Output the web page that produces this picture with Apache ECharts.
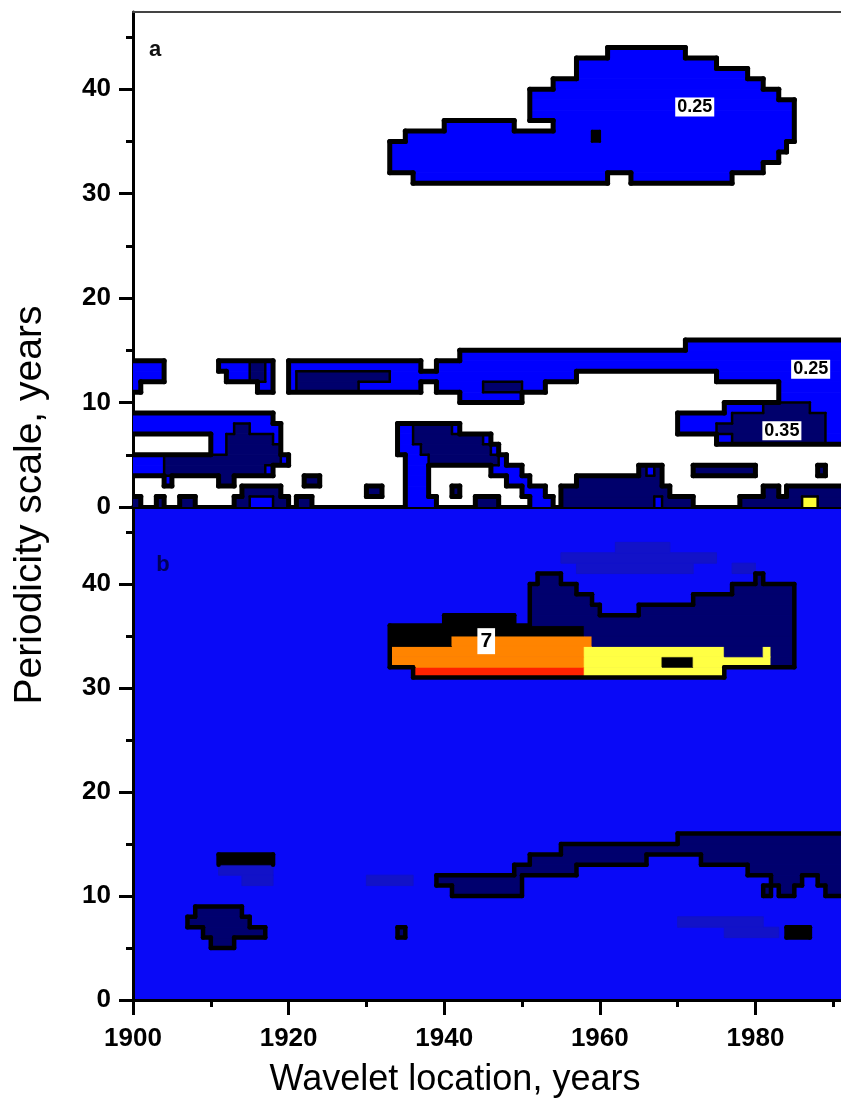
<!DOCTYPE html>
<html>
<head>
<meta charset="utf-8">
<title>Wavelet periodicity</title>
<script src="https://cdn.jsdelivr.net/npm/echarts@6/dist/echarts.min.js"></script>
<style>
  html, body { margin: 0; padding: 0; background: #fff; }
  #chart { width: 841px; height: 1111px; }
</style>
</head>
<body>
<div id="chart"></div>
<script>
// grid of the wavelet maps: one column per year, one row per unit of period
const YEAR0 = 1900;
const NCOL = 91;
const NROW = 48;

const xMajorTicks = [1900, 1920, 1940, 1960, 1980];
const xMinorTicks = [1910, 1930, 1950, 1970, 1990];
const yMajorTicks = [0, 10, 20, 30, 40];
const yMinorTicks = [5, 15, 25, 35, 45];

// runs: [period row, from year, to year, level]
// later runs paint over earlier ones
// levels panel a: b = 0.25, n = 0.35, k = peak, y = spot
const topRuns = [
  [43, 1961, 1971, 'b'], [42, 1957, 1975, 'b'], [41, 1957, 1979, 'b'], [40, 1954, 1981, 'b'],
  [39, 1951, 1983, 'b'], [38, 1951, 1985, 'b'], [37, 1951, 1985, 'b'],
  [36, 1940, 1949, 'b'], [36, 1954, 1985, 'b'],
  [35, 1935, 1985, 'b'], [34, 1933, 1984, 'b'], [33, 1933, 1983, 'b'], [32, 1933, 1981, 'b'],
  [31, 1936, 1961, 'b'], [31, 1964, 1977, 'b'],
  [35, 1959, 1960, 'k'],
  [15, 1971, 1991, 'b'], [14, 1942, 1991, 'b'],
  [13, 1920, 1937, 'b'], [13, 1939, 1991, 'b'],
  [12, 1920, 1957, 'b'], [12, 1975, 1991, 'b'],
  [11, 1920, 1937, 'b'], [11, 1939, 1953, 'b'], [11, 1983, 1991, 'b'],
  [10, 1942, 1950, 'b'], [10, 1983, 1991, 'b'],
  [9, 1976, 1991, 'b'], [8, 1970, 1991, 'b'], [7, 1970, 1991, 'b'], [6, 1975, 1991, 'b'],
  [12, 1921, 1933, 'n'], [11, 1921, 1929, 'n'], [11, 1945, 1950, 'n'],
  [9, 1981, 1987, 'n'], [8, 1977, 1989, 'n'], [7, 1975, 1989, 'n'], [6, 1977, 1989, 'n'],
  [13, 1900, 1904, 'b'], [12, 1900, 1904, 'b'], [11, 1900, 1901, 'b'],
  [13, 1911, 1918, 'b'], [12, 1912, 1918, 'b'], [11, 1916, 1918, 'b'],
  [13, 1915, 1917, 'n'], [12, 1915, 1917, 'n'],
  [8, 1900, 1918, 'b'], [7, 1900, 1919, 'b'], [6, 1910, 1919, 'b'], [5, 1910, 1919, 'b'],
  [4, 1900, 1920, 'b'], [3, 1900, 1918, 'b'], [2, 1904, 1905, 'b'],
  [7, 1913, 1915, 'n'], [6, 1912, 1918, 'n'], [5, 1912, 1919, 'n'], [4, 1904, 1919, 'n'], [3, 1904, 1917, 'n'],
  [7, 1934, 1942, 'b'], [6, 1934, 1946, 'b'], [5, 1934, 1947, 'b'], [4, 1935, 1948, 'b'],
  [3, 1935, 1938, 'b'], [3, 1946, 1950, 'b'], [2, 1935, 1938, 'b'], [2, 1948, 1951, 'b'],
  [1, 1935, 1938, 'b'], [1, 1950, 1953, 'b'], [0, 1935, 1939, 'b'], [0, 1951, 1954, 'b'],
  [7, 1936, 1941, 'n'], [6, 1936, 1945, 'n'], [5, 1937, 1946, 'n'], [4, 1938, 1947, 'n'],
  [1, 1941, 1942, 'n'],
  [2, 1911, 1913, 'n'], [2, 1922, 1924, 'n'], [1, 1930, 1932, 'n'],
  [0, 1900, 1901, 'n'], [0, 1903, 1904, 'n'], [0, 1906, 1908, 'n'],
  [1, 1914, 1919, 'n'], [0, 1913, 1920, 'n'], [0, 1915, 1918, 'b'], [0, 1921, 1923, 'n'],
  [0, 1944, 1947, 'n'],
  [3, 1965, 1968, 'n'], [2, 1957, 1968, 'n'], [1, 1955, 1969, 'n'], [0, 1955, 1972, 'n'],
  [3, 1966, 1967, 'b'], [0, 1967, 1968, 'b'],
  [3, 1972, 1980, 'n'], [3, 1988, 1989, 'n'],
  [1, 1981, 1983, 'n'], [1, 1984, 1991, 'n'], [0, 1978, 1991, 'n'], [0, 1986, 1988, 'y']
];

// levels panel b: f = faint, n = dark, k = black, o/r/y = high power
const bottomRuns = [
  [43, 1962, 1969, 'f'], [42, 1955, 1975, 'f'], [41, 1957, 1972, 'f'], [41, 1977, 1980, 'f'],
  [40, 1952, 1955, 'n'], [40, 1980, 1981, 'n'],
  [39, 1951, 1957, 'n'], [39, 1977, 1985, 'n'],
  [38, 1951, 1959, 'n'], [38, 1972, 1985, 'n'],
  [37, 1951, 1960, 'n'], [37, 1965, 1985, 'n'],
  [36, 1951, 1985, 'n'], [35, 1958, 1985, 'n'], [34, 1959, 1985, 'n'],
  [33, 1976, 1985, 'n'], [32, 1982, 1985, 'n'],
  [36, 1940, 1949, 'k'], [35, 1933, 1958, 'k'], [34, 1933, 1941, 'k'],
  [34, 1941, 1959, 'o'], [33, 1933, 1958, 'o'], [32, 1933, 1958, 'o'],
  [31, 1936, 1958, 'r'],
  [33, 1958, 1976, 'y'], [32, 1958, 1982, 'y'], [31, 1958, 1976, 'y'], [33, 1981, 1982, 'y'],
  [32, 1968, 1972, 'k'],
  [13, 1911, 1918, 'k'], [12, 1911, 1918, 'f'], [11, 1914, 1918, 'f'],
  [8, 1908, 1914, 'n'], [7, 1907, 1915, 'n'], [6, 1909, 1917, 'n'], [5, 1910, 1913, 'n'],
  [11, 1930, 1936, 'f'], [6, 1934, 1935, 'n'],
  [11, 1939, 1950, 'n'], [10, 1941, 1950, 'n'],
  [15, 1970, 1991, 'n'], [14, 1955, 1991, 'n'], [13, 1951, 1966, 'n'], [13, 1973, 1991, 'n'],
  [12, 1949, 1957, 'n'], [12, 1979, 1991, 'n'], [11, 1982, 1986, 'n'], [11, 1988, 1991, 'n'],
  [10, 1983, 1985, 'n'], [10, 1989, 1991, 'n'], [10, 1981, 1982, 'n'],
  [7, 1970, 1981, 'f'], [6, 1976, 1983, 'f'], [6, 1984, 1987, 'k']
];

const topLabels = [
  { name: '0.25', value: [1972.2, 38.3] },
  { name: '0.25', value: [1987.1, 13.2] },
  { name: '0.35', value: [1983.4, 7.3] }
];
const bottomLabels = [
  { name: '7', value: [1945.4, 34.5] }
];

const topColors = { b: '#0000fe', n: '#00006c', k: '#000000', y: '#ffff33' };
const bottomColors = { n: '#00006e', f: '#1212c8', k: '#000000', y: '#ffff44', o: '#ff8400', r: '#ff2200' };
const bottomBg = '#0909f7';

function buildGrid(runs) {
  let g = [];
  for (let r = 0; r < NROW; r++) g.push(new Array(NCOL).fill('.'));
  runs.forEach(run => {
    for (let x = run[1]; x < run[2]; x++) {
      let c = x - YEAR0;
      if (c >= 0 && c < NCOL) g[run[0]][c] = run[3];
    }
  });
  return g;
}

// horizontal runs of the same level -> [x0, x1, row, levelIndex]
function fillData(g, codes) {
  let out = [];
  for (let r = 0; r < NROW; r++) {
    let c = 0;
    while (c < NCOL) {
      let code = g[r][c];
      let e = c;
      while (e < NCOL && g[r][e] === code) e++;
      if (code !== '.') out.push([YEAR0 + c, YEAR0 + e, r, codes.indexOf(code)]);
      c = e;
    }
  }
  return out;
}

// contour lines on cell edges where the level changes -> [x0, y0, x1, y1, width]
function edgeData(g, widthFn) {
  let out = [];
  for (let r = 1; r < NROW; r++) {
    let start = -1, w0 = 0;
    for (let c = 0; c <= NCOL; c++) {
      let w = c < NCOL ? widthFn(g[r - 1][c], g[r][c]) : 0;
      if (w !== w0) {
        if (w0 > 0) out.push([YEAR0 + start, r, YEAR0 + c, r, w0]);
        start = c;
        w0 = w;
      }
    }
  }
  for (let c = 1; c < NCOL; c++) {
    let start = -1, w0 = 0;
    for (let r = 0; r <= NROW; r++) {
      let w = r < NROW ? widthFn(g[r][c - 1], g[r][c]) : 0;
      if (w !== w0) {
        if (w0 > 0) out.push([YEAR0 + c, start, YEAR0 + c, r, w0]);
        start = r;
        w0 = w;
      }
    }
  }
  return out;
}

function topWidth(a, b) {
  if (a === b) return 0;
  if (a === '.' || b === '.') return 5;
  return 2.5;
}

function bottomWidth(a, b) {
  if (a === b) return 0;
  if (a === 'f' || b === 'f') return 0;
  if (a === '.' || b === '.') return 4.5;
  return 0;
}

function renderFill(colors) {
  return function (params, api) {
    let p0 = api.coord([api.value(0), api.value(2) + 1]);
    let p1 = api.coord([api.value(1), api.value(2)]);
    let col = colors[api.value(3)];
    return {
      type: 'rect',
      shape: { x: p0[0], y: p0[1], width: p1[0] - p0[0], height: p1[1] - p0[1] },
      style: { fill: col, stroke: col, lineWidth: 1 }
    };
  };
}

function renderEdge(params, api) {
  let p0 = api.coord([api.value(0), api.value(1)]);
  let p1 = api.coord([api.value(2), api.value(3)]);
  return {
    type: 'line',
    shape: { x1: p0[0], y1: p0[1], x2: p1[0], y2: p1[1] },
    style: { stroke: '#000', lineWidth: api.value(4), lineCap: 'round' }
  };
}

const topGrid = buildGrid(topRuns);
const bottomGrid = buildGrid(bottomRuns);
const topCodes = Object.keys(topColors);
const bottomCodes = Object.keys(bottomColors);

const font = '"Liberation Sans", Arial, sans-serif';
const tickLabel = { fontFamily: font, fontSize: 26, fontWeight: 'bold', color: '#000' };

function xAxisFor(gridIndex, opts) {
  return Object.assign({
    type: 'value', gridIndex: gridIndex, min: 1900, max: 1991,
    splitLine: { show: false },
    axisLine: { onZero: false, show: false },
    axisTick: { show: false },
    axisLabel: { show: false }
  }, opts);
}

function yAxisFor(gridIndex, opts) {
  return Object.assign({
    type: 'value', gridIndex: gridIndex, min: 0, max: 47.4,
    splitLine: { show: false },
    axisLine: { onZero: false, show: false },
    axisTick: { show: false },
    axisLabel: { show: false }
  }, opts);
}

const chart = echarts.init(document.getElementById('chart'));

const option = {
  animation: false,
  backgroundColor: '#fff',
  grid: [
    { left: 133, top: 12, width: 710, height: 495 },
    { left: 133, top: 507, width: 710, height: 493, show: true, backgroundColor: bottomBg, borderWidth: 0 }
  ],
  xAxis: [
    xAxisFor(0, { position: 'bottom', axisLine: { show: true, onZero: false, lineStyle: { color: '#000', width: 4 } } }),
    xAxisFor(0, { position: 'top', axisLine: { show: true, onZero: false, lineStyle: { color: '#444', width: 2 } } }),
    xAxisFor(1, {
      position: 'bottom',
      axisLine: { show: true, onZero: false, lineStyle: { color: '#000', width: 3 } },
      axisTick: { show: true, customValues: xMajorTicks, length: 15, lineStyle: { color: '#000', width: 3 } },
      axisLabel: Object.assign({
        show: true, customValues: xMajorTicks, margin: 26,
        formatter: v => String(v)
      }, tickLabel)
    }),
    xAxisFor(1, {
      position: 'bottom',
      axisTick: { show: true, customValues: xMinorTicks, length: 7, lineStyle: { color: '#000', width: 3 } }
    })
  ],
  yAxis: [
    yAxisFor(0, {
      position: 'left',
      axisLine: { show: true, onZero: false, lineStyle: { color: '#000', width: 3 } },
      axisTick: { show: true, customValues: yMajorTicks, length: 14, lineStyle: { color: '#000', width: 3 } },
      axisLabel: Object.assign({ show: true, customValues: yMajorTicks, margin: 22 }, tickLabel)
    }),
    yAxisFor(0, {
      position: 'left',
      axisTick: { show: true, customValues: yMinorTicks, length: 7, lineStyle: { color: '#000', width: 3 } }
    }),
    yAxisFor(1, {
      position: 'left',
      axisLine: { show: true, onZero: false, lineStyle: { color: '#000', width: 3 } },
      axisTick: { show: true, customValues: yMajorTicks, length: 14, lineStyle: { color: '#000', width: 3 } },
      axisLabel: Object.assign({ show: true, customValues: yMajorTicks, margin: 22 }, tickLabel)
    }),
    yAxisFor(1, {
      position: 'left',
      axisTick: { show: true, customValues: yMinorTicks, length: 7, lineStyle: { color: '#000', width: 3 } }
    })
  ],
  series: [
    {
      type: 'custom', xAxisIndex: 0, yAxisIndex: 0, clip: true, z: 2,
      renderItem: renderFill(topCodes.map(k => topColors[k])),
      data: fillData(topGrid, topCodes)
    },
    {
      type: 'custom', xAxisIndex: 0, yAxisIndex: 0, clip: true, z: 3,
      renderItem: renderEdge,
      data: edgeData(topGrid, topWidth)
    },
    {
      type: 'custom', xAxisIndex: 2, yAxisIndex: 2, clip: true, z: 2,
      renderItem: renderFill(bottomCodes.map(k => bottomColors[k])),
      data: fillData(bottomGrid, bottomCodes)
    },
    {
      type: 'custom', xAxisIndex: 2, yAxisIndex: 2, clip: true, z: 3,
      renderItem: renderEdge,
      data: edgeData(bottomGrid, bottomWidth)
    },
    {
      type: 'scatter', xAxisIndex: 0, yAxisIndex: 0, symbolSize: 0, z: 4,
      itemStyle: { opacity: 1 },
      data: topLabels,
      label: {
        show: true, position: 'inside', formatter: '{b}',
        fontFamily: font, fontSize: 18, fontWeight: 'bold', color: '#000', opacity: 1,
        backgroundColor: '#ffffff', padding: [1, 2, 0, 2]
      }
    },
    {
      type: 'scatter', xAxisIndex: 2, yAxisIndex: 2, symbolSize: 0, z: 4,
      itemStyle: { opacity: 1 },
      data: bottomLabels,
      label: {
        show: true, position: 'inside', formatter: '{b}',
        fontFamily: font, fontSize: 21, fontWeight: 'bold', color: '#000', opacity: 1,
        backgroundColor: '#ffffff', padding: [3, 3, 2, 3]
      }
    }
  ],
  graphic: [
    {
      type: 'text', x: 30, y: 505, rotation: Math.PI / 2,
      style: { text: 'Periodicity scale, years', font: '39px ' + font, fill: '#000', textAlign: 'center', textVerticalAlign: 'middle' }
    },
    {
      type: 'text', x: 455, y: 1080,
      style: { text: 'Wavelet location, years', font: '36px ' + font, fill: '#000', textAlign: 'center', textVerticalAlign: 'middle' }
    },
    {
      type: 'text', x: 155, y: 50, z: 10,
      style: { text: 'a', font: 'bold 22px ' + font, fill: '#111', textAlign: 'center', textVerticalAlign: 'middle' }
    },
    {
      type: 'text', x: 163, y: 565, z: 10,
      style: { text: 'b', font: 'bold 22px ' + font, fill: '#00005a', textAlign: 'center', textVerticalAlign: 'middle' }
    }
  ]
};

chart.setOption(option);
</script>
</body>
</html>
